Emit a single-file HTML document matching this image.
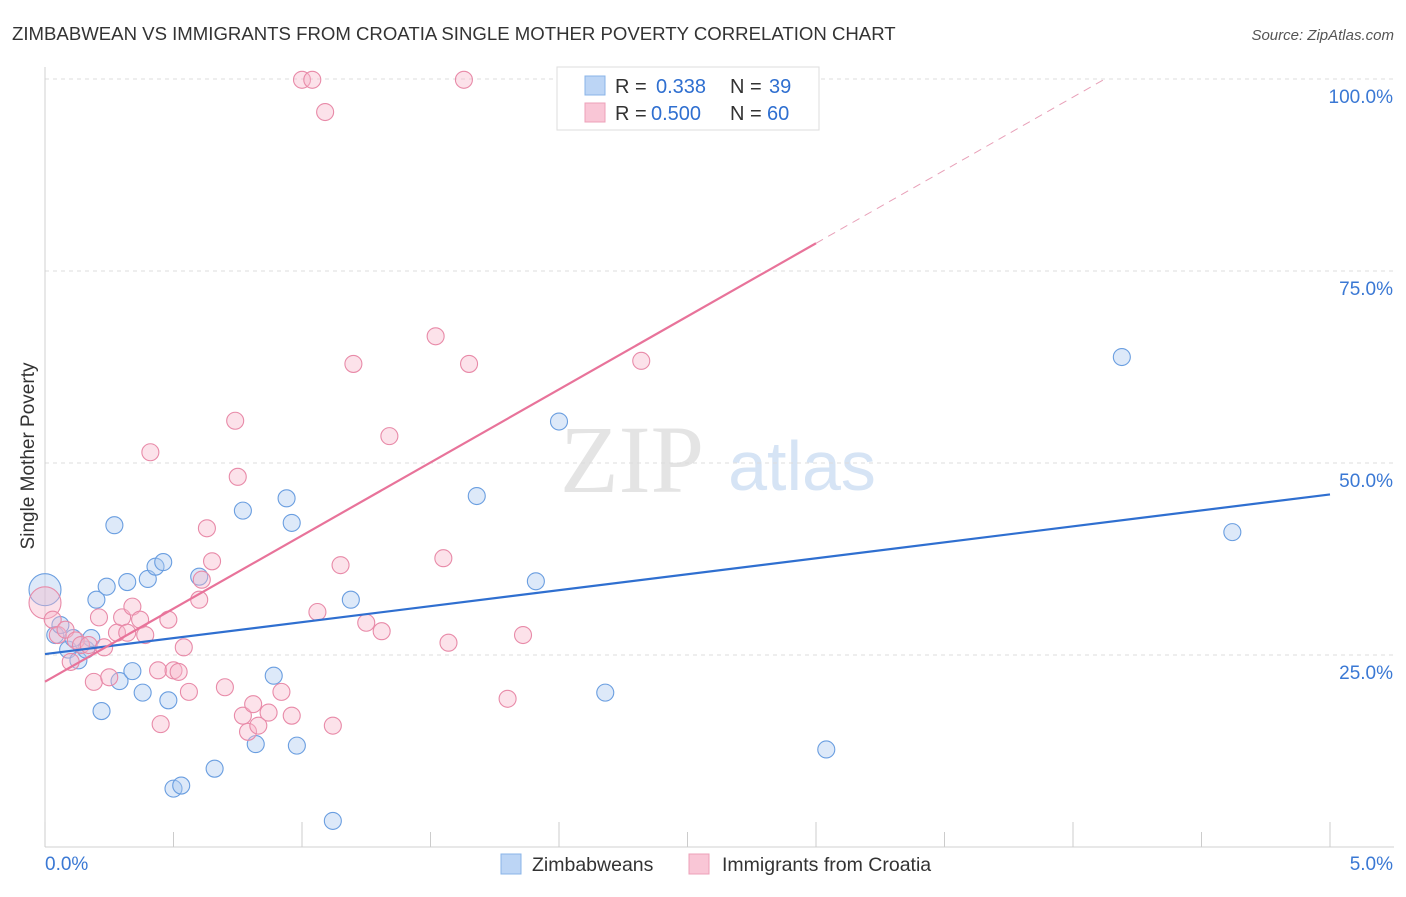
<!DOCTYPE html>
<html><head><meta charset="utf-8"><style>
body{margin:0;background:#fff;font-family:"Liberation Sans",sans-serif}
</style></head><body>
<svg width="1406" height="892" xmlns="http://www.w3.org/2000/svg" id="chart">
<text x="12" y="40" font-size="18.6" fill="#333">ZIMBABWEAN VS IMMIGRANTS FROM CROATIA SINGLE MOTHER POVERTY CORRELATION CHART</text>
<text x="1394" y="40" font-size="15" fill="#555" text-anchor="end" font-style="italic">Source: ZipAtlas.com</text>
<text x="34" y="456" font-size="19" fill="#333" text-anchor="middle" transform="rotate(-90 34 456)">Single Mother Poverty</text>
<text x="632" y="492" font-size="96" fill="#e4e4e4" font-family="Liberation Serif" text-anchor="middle">ZIP</text>
<text x="802" y="490" font-size="70" fill="#d6e4f5" text-anchor="middle">atlas</text>
<g id="grid"></g><g id="marks"></g>
<g>
<rect x="557" y="67" width="262" height="63" fill="#fff" stroke="#ddd"/>
<rect x="585" y="76" width="20" height="19" fill="#bcd5f5" stroke="#8ab4e8"/>
<rect x="585" y="103" width="20" height="19" fill="#f9c6d6" stroke="#eda0b8"/>
<text x="615" y="93" font-size="20" fill="#333">R =</text>
<text x="656" y="93" font-size="20" fill="#2f6fd0">0.338</text>
<text x="730" y="93" font-size="20" fill="#333">N =</text>
<text x="769" y="93" font-size="20" fill="#2f6fd0">39</text>
<text x="615" y="120" font-size="20" fill="#333">R =</text>
<text x="651" y="120" font-size="20" fill="#2f6fd0">0.500</text>
<text x="730" y="120" font-size="20" fill="#333">N =</text>
<text x="767" y="120" font-size="20" fill="#2f6fd0">60</text>
</g>
<g>
<rect x="501" y="854" width="20" height="20" fill="#bcd5f5" stroke="#8ab4e8"/>
<text x="532" y="871" font-size="19.5" fill="#333">Zimbabweans</text>
<rect x="689" y="854" width="20" height="20" fill="#f9c6d6" stroke="#eda0b8"/>
<text x="722" y="871" font-size="19.5" fill="#333">Immigrants from Croatia</text>
</g>
</svg>
<script>
const yTicks=[25,50,75,100];
const yTickLabels=["25.0%","50.0%","75.0%","100.0%"];
const blueX=[0,0.04,0.06,0.09,0.11,0.13,0.16,0.18,0.2,0.22,0.24,0.27,0.29,0.32,0.34,0.38,0.4,0.43,0.46,0.48,0.5,0.53,0.6,0.66,0.77,0.82,0.89,0.94,0.96,0.98,1.12,1.19,1.68,1.91,2.0,2.18,3.04,4.19,4.62];
const blueY=[33.5,27.6,28.9,25.7,27.2,24.3,25.7,27.2,32.2,17.7,33.9,41.9,21.6,34.5,22.9,20.1,34.9,36.5,37.1,19.1,7.6,8.0,35.2,10.2,43.8,13.4,22.3,45.4,42.2,13.2,3.4,32.2,45.7,34.6,55.4,20.1,12.7,63.8,41.0];
const pinkX=[0,0.03,0.05,0.08,0.1,0.12,0.14,0.17,0.19,0.21,0.23,0.25,0.28,0.3,0.32,0.34,0.37,0.39,0.41,0.44,0.45,0.48,0.5,0.52,0.54,0.56,0.6,0.61,0.63,0.65,0.7,0.74,0.75,0.77,0.79,0.81,0.83,0.87,0.92,0.96,1.0,1.04,1.09,1.12,1.15,1.06,1.2,1.25,1.31,1.34,1.52,1.55,1.57,1.63,1.65,1.8,1.86,2.32,2.9];
const pinkY=[31.8,29.6,27.6,28.3,24.1,26.9,26.3,26.3,21.5,29.9,26.0,22.1,27.9,29.9,27.9,31.3,29.6,27.6,51.4,23.0,16.0,29.6,23.0,22.8,26.0,20.2,32.2,34.8,41.5,37.2,20.8,55.5,48.2,17.1,15.0,18.6,15.8,17.5,20.2,17.1,99.9,99.9,95.7,15.8,36.7,30.6,62.9,29.2,28.1,53.5,66.5,37.6,26.6,99.9,62.9,19.3,27.6,63.3,99.9];
const X=v=>45+v/5*1285, Y=v=>847-v/25*192;
const NS="http://www.w3.org/2000/svg";
const grid=document.getElementById('grid'), marks=document.getElementById('marks');
function mk(p,tag,at){const e=document.createElementNS(NS,tag);for(const k in at)e.setAttribute(k,at[k]);p.appendChild(e);return e;}
yTicks.forEach((t,i)=>{
 const l=mk(grid,'line',{x1:45,x2:1394,y1:Y(t),y2:Y(t),stroke:'#ddd','stroke-dasharray':'4,4'});
 
 
 const tx=mk(grid,'text',{x:1393,y:Y(t)+24,'font-size':19,fill:'#3a78d4','text-anchor':'end'});tx.textContent=yTickLabels[i];
 
 
});
mk(grid,'line',{x1:45,x2:45,y1:67,y2:847,stroke:'#d0d0d0'});
mk(grid,'line',{x1:45,x2:1394,y1:847,y2:847,stroke:'#d0d0d0'});
for(let i=0;i<=10;i++){mk(grid,'line',{x1:X(i*0.5),x2:X(i*0.5),y1:847,y2:i%2?832:822,stroke:'#ccc'});}
const x0=mk(grid,'text',{x:45,y:870,'font-size':19,fill:'#3a78d4'});x0.textContent='0.0%';


const x5=mk(grid,'text',{x:1393,y:870,'font-size':19,fill:'#3a78d4','text-anchor':'end'});x5.textContent='5.0%';


function dots(xs,ys,fill,stroke,name){xs.forEach((v,i)=>{
 const c=mk(marks,'circle',{cx:X(v),cy:Y(ys[i]),r:i==0?16:8.5,fill:fill,'fill-opacity':0.4,stroke:stroke,'stroke-width':1.1});
 
 
});}
dots(blueX,blueY,'#a9c8f0','#6a9ee0','zimbabwean-point');
dots(pinkX,pinkY,'#f7b7cb','#e88aa8','croatia-point');
function fit(xs,ys){const n=xs.length;let mx=0,my=0;xs.forEach((v,i)=>{mx+=v;my+=ys[i]});mx/=n;my/=n;let sxy=0,sxx=0;xs.forEach((v,i)=>{sxy+=(v-mx)*(ys[i]-my);sxx+=(v-mx)**2});const b=sxy/sxx;return[my-b*mx,b];}
const [ba,bb]=fit(blueX,blueY);
const bl=mk(marks,'line',{x1:X(0),y1:Y(ba),x2:X(5),y2:Y(ba+bb*5),stroke:'#2f6fd0','stroke-width':2.2});


const [pa,pb]=fit(pinkX,pinkY);
const pl=mk(marks,'line',{x1:X(0),y1:Y(pa),x2:X(3),y2:Y(pa+pb*3),stroke:'#e8739a','stroke-width':2.2});


const xe=(100-pa)/pb;
const pd=mk(marks,'line',{x1:X(3),y1:Y(pa+pb*3),x2:X(xe),y2:Y(100),stroke:'#e8a0b8','stroke-width':1,'stroke-dasharray':'8,6'});


</script>
</body></html>
